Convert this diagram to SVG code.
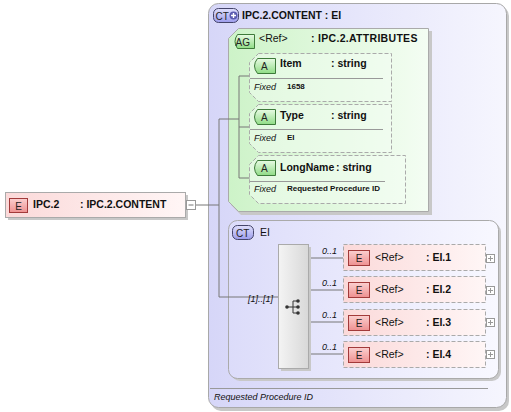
<svg xmlns="http://www.w3.org/2000/svg" width="511" height="412" viewBox="0 0 511 412">
<defs>
<linearGradient id="gOuter" x1="0" y1="0" x2="1" y2="0"><stop offset="0" stop-color="#d6d6f8"/><stop offset="1" stop-color="#f6f6fe"/></linearGradient>
<linearGradient id="gCT" x1="0" y1="0" x2="1" y2="0"><stop offset="0" stop-color="#dcdcfa"/><stop offset="1" stop-color="#f8f8ff"/></linearGradient>
<linearGradient id="gAG" x1="0" y1="0" x2="1" y2="0"><stop offset="0" stop-color="#cdf3c8"/><stop offset="1" stop-color="#f4fdf3"/></linearGradient>
<linearGradient id="gE" x1="0" y1="0" x2="1" y2="0"><stop offset="0" stop-color="#fbd9d9"/><stop offset="1" stop-color="#fff6f6"/></linearGradient>
<linearGradient id="gSeq" x1="0" y1="0" x2="1" y2="0"><stop offset="0" stop-color="#f4f4f4"/><stop offset="1" stop-color="#d8d8d8"/></linearGradient>
<linearGradient id="gBE" x1="0" y1="0" x2="0" y2="1"><stop offset="0" stop-color="#fbd0d0"/><stop offset="1" stop-color="#ee9090"/></linearGradient>
<linearGradient id="gBA" x1="0" y1="0" x2="0" y2="1"><stop offset="0" stop-color="#e8fbe4"/><stop offset="1" stop-color="#8fdc85"/></linearGradient>
<linearGradient id="gBC" x1="0" y1="0" x2="0" y2="1"><stop offset="0" stop-color="#e0e0fc"/><stop offset="1" stop-color="#9c9cec"/></linearGradient>
</defs>
<style>
text{font-family:"Liberation Sans",Arial,sans-serif;fill:#111}
.b{font-weight:bold;font-size:10.5px}
.n{font-size:10.5px}
.bs{font-weight:bold;font-size:8px}
.i{font-style:italic;font-size:9px}
.bd{font-size:10px;fill:#222}
.ln{stroke:#777;stroke-width:1;fill:none}
.sh{fill:#c8c8c8}
.dash{stroke:#aaa;stroke-width:1;stroke-dasharray:4,2}
.be{fill:url(#gBE);stroke:#a23a3a;stroke-width:1}
.ba{fill:url(#gBA);stroke:#3d7a3a;stroke-width:1}
.bc{fill:url(#gBC);stroke:#44446a;stroke-width:1}
.pm{fill:#fff;stroke:#999;stroke-width:1}
</style>

<g id="IPC2">
<rect x="8" y="195" width="180" height="25" class="sh"/>
<rect x="5.5" y="192.5" width="180" height="25" fill="url(#gE)" stroke="#aaa"/>
<rect x="9.5" y="198.5" width="18" height="14" class="be"/>
<text x="18.5" y="209.5" text-anchor="middle" class="bd">E</text>
<text x="33" y="208" class="b">IPC.2</text>
<text x="80" y="208" class="b">: IPC.2.CONTENT</text>
<rect x="186.5" y="200.5" width="9" height="9" class="pm"/>
<path d="M188.5,205 H193.5" stroke="#777"/>
</g>

<g id="IPC2CONTENT">
<rect x="211" y="6" width="298" height="405" rx="10" class="sh"/>
<rect x="208.5" y="3.5" width="298" height="404" rx="10" fill="url(#gOuter)" stroke="#a8a8a8"/>
<rect x="213.5" y="8.5" width="25" height="14" rx="5" class="bc"/>
<text x="215.5" y="19.5" class="bd">CT</text>
<circle cx="233.5" cy="15.5" r="4" fill="#5a5ab0"/>
<path d="M231,15.5 H236 M233.5,13 V18" stroke="#fff" stroke-width="1.4"/>
<text x="242" y="19" class="b">IPC.2.CONTENT : EI</text>
<line x1="210" y1="388.5" x2="488" y2="388.5" stroke="#999"/>
<text x="214" y="400" class="i">Requested Procedure ID</text>
</g>

<g id="AG">
<polygon points="241,31 432,31 432,215 241,215 231,205 231,41" class="sh"/>
<polygon points="238.5,28.5 428.5,28.5 428.5,211.5 238.5,211.5 228.5,201.5 228.5,38.5" fill="url(#gAG)" stroke="#aaa"/>
<path d="M237.5,34.5 H254.5 V48.5 H237.5 Q232.5,41.5 237.5,34.5 Z" class="ba"/>
<text x="235.5" y="45.5" class="bd">AG</text>
<text x="259" y="42" class="n">&lt;Ref&gt;</text>
<text x="311" y="42" class="b" style="letter-spacing:0.3px">: IPC.2.ATTRIBUTES</text>
</g>

<g id="CTEI">
<rect x="231" y="223" width="270" height="158" rx="9" class="sh"/>
<rect x="228.5" y="220.5" width="270" height="158" rx="9" fill="url(#gCT)" stroke="#aaa"/>
<rect x="232.5" y="225.5" width="21" height="14" rx="5" class="bc"/>
<text x="236" y="236.5" class="bd">CT</text>
<text x="260" y="236" class="n">EI</text>
</g>

<g id="connectors">
<path class="ln" d="M196,205 H219 M219,119 V297 M219,119 H239 M239,76 V178 M239,76 H250 M239,127 H250 M239,178 H250 M219,297 H278"/>
<path class="ln" d="M308,258 H343 M308,290 H343 M308,322 H343 M308,354 H343"/>
</g>

<g id="attrItem">
<polygon points="258.5,53.5 391.5,53.5 391.5,101.5 258.5,101.5 249.5,92.5 249.5,62.5" fill="#f4fdf3" fill-opacity="0.5" class="dash"/>
<path d="M257.5,58.5 H275.5 V73.5 H257.5 Q251.5,66 257.5,58.5 Z" class="ba"/>
<text x="261" y="70" class="bd">A</text>
<text x="280" y="67" class="b">Item</text>
<text x="331" y="67" class="b">: string</text>
<line x1="250" y1="78.5" x2="383" y2="78.5" stroke="#999"/>
<text x="254" y="90" class="i">Fixed</text>
<text x="287" y="89" class="bs">1658</text>
</g>

<g id="attrType">
<polygon points="258.5,104.5 391.5,104.5 391.5,152.5 258.5,152.5 249.5,143.5 249.5,113.5" fill="#f4fdf3" fill-opacity="0.5" class="dash"/>
<path d="M257.5,109.5 H275.5 V124.5 H257.5 Q251.5,117 257.5,109.5 Z" class="ba"/>
<text x="261" y="121" class="bd">A</text>
<text x="280" y="119" class="b">Type</text>
<text x="331" y="119" class="b">: string</text>
<line x1="250" y1="129.5" x2="383" y2="129.5" stroke="#999"/>
<text x="254" y="141" class="i">Fixed</text>
<text x="287" y="140" class="bs">EI</text>
</g>

<g id="attrLongName">
<polygon points="258.5,155.5 405.5,155.5 405.5,203.5 258.5,203.5 249.5,194.5 249.5,164.5" fill="#f4fdf3" fill-opacity="0.5" class="dash"/>
<path d="M257.5,160.5 H275.5 V175.5 H257.5 Q251.5,168 257.5,160.5 Z" class="ba"/>
<text x="261" y="172" class="bd">A</text>
<text x="280" y="171" class="b">LongName</text>
<text x="336" y="171" class="b">: string</text>
<line x1="250" y1="181.5" x2="385" y2="181.5" stroke="#999"/>
<text x="254" y="192" class="i">Fixed</text>
<text x="287" y="191" class="bs">Requested Procedure ID</text>
</g>

<g id="sequence">
<rect x="281" y="247" width="30" height="124" class="sh"/>
<rect x="278.5" y="244.5" width="30" height="124" fill="url(#gSeq)" stroke="#aaa"/>
<path d="M287,307 H293 M293,301 V313 M293,301 H298 M293,307 H298 M293,313 H298" stroke="#333" stroke-width="1"/>
<circle cx="287" cy="307" r="1.8" fill="#333"/>
<circle cx="298" cy="301" r="1.8" fill="#333"/>
<circle cx="298" cy="307" r="1.8" fill="#333"/>
<circle cx="298" cy="313" r="1.8" fill="#333"/>
<text x="248" y="302" class="i">[1]..[1]</text>
</g>

<g id="EI1">
<rect x="343.5" y="244.5" width="142" height="26" fill="url(#gE)" class="dash"/>
<rect x="348.5" y="250.5" width="21" height="15" class="be"/>
<text x="359" y="262" text-anchor="middle" class="bd">E</text>
<text x="375" y="261" class="n">&lt;Ref&gt;</text>
<text x="426" y="261" class="b">: EI.1</text>
<rect x="486.5" y="254.5" width="8" height="8" class="pm"/>
<path d="M488,258.5 H493 M490.5,256 V261" stroke="#999"/>
<text x="322" y="254" class="i">0..1</text>
</g>

<g id="EI2">
<rect x="343.5" y="276.5" width="142" height="26" fill="url(#gE)" class="dash"/>
<rect x="348.5" y="282.5" width="21" height="15" class="be"/>
<text x="359" y="294" text-anchor="middle" class="bd">E</text>
<text x="375" y="293" class="n">&lt;Ref&gt;</text>
<text x="426" y="293" class="b">: EI.2</text>
<rect x="486.5" y="286.5" width="8" height="8" class="pm"/>
<path d="M488,290.5 H493 M490.5,288 V293" stroke="#999"/>
<text x="322" y="286" class="i">0..1</text>
</g>

<g id="EI3">
<rect x="343.5" y="309.5" width="142" height="26" fill="url(#gE)" class="dash"/>
<rect x="348.5" y="315.5" width="21" height="15" class="be"/>
<text x="359" y="327" text-anchor="middle" class="bd">E</text>
<text x="375" y="326" class="n">&lt;Ref&gt;</text>
<text x="426" y="326" class="b">: EI.3</text>
<rect x="486.5" y="318.5" width="8" height="8" class="pm"/>
<path d="M488,322.5 H493 M490.5,320 V325" stroke="#999"/>
<text x="322" y="318" class="i">0..1</text>
</g>

<g id="EI4">
<rect x="343.5" y="341.5" width="142" height="26" fill="url(#gE)" class="dash"/>
<rect x="348.5" y="347.5" width="21" height="15" class="be"/>
<text x="359" y="359" text-anchor="middle" class="bd">E</text>
<text x="375" y="358" class="n">&lt;Ref&gt;</text>
<text x="426" y="358" class="b">: EI.4</text>
<rect x="486.5" y="350.5" width="8" height="8" class="pm"/>
<path d="M488,354.5 H493 M490.5,352 V357" stroke="#999"/>
<text x="322" y="350" class="i">0..1</text>
</g>
</svg>
